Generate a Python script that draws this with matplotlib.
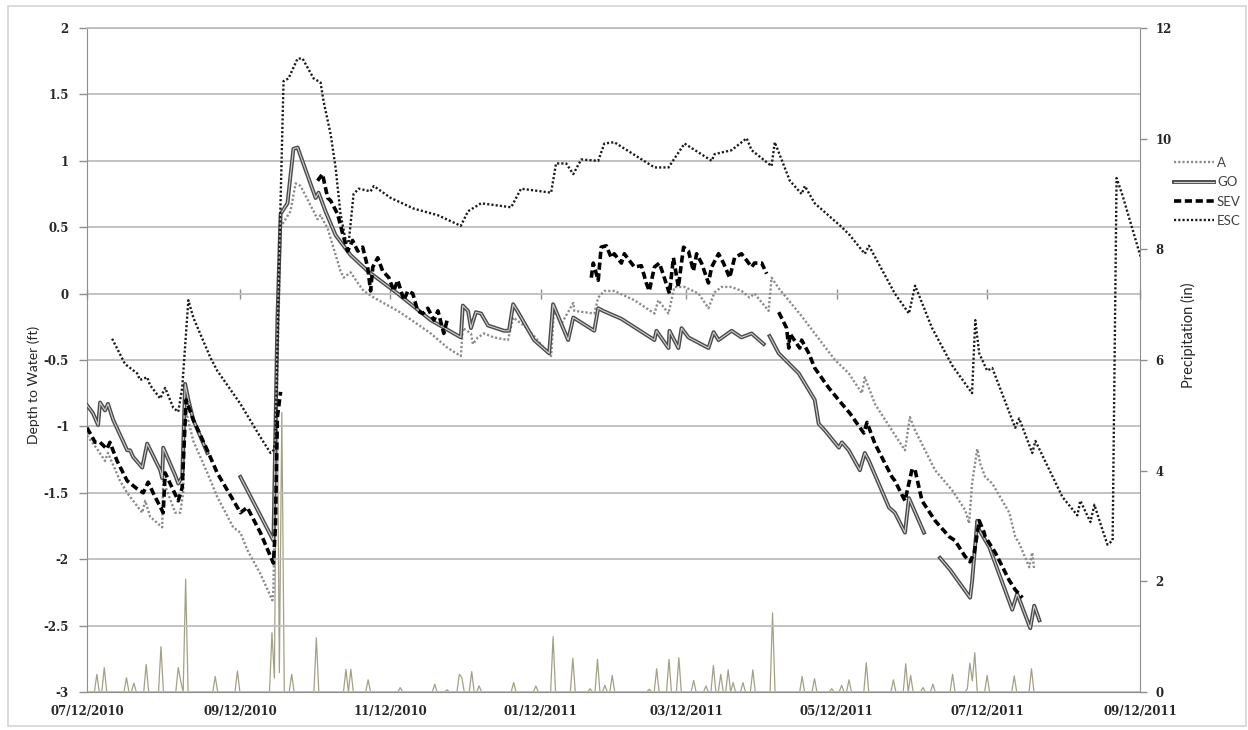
import numpy as np
import matplotlib
matplotlib.use("Agg")
import matplotlib.pyplot as plt
import matplotlib.dates as mdates
import matplotlib.patheffects as pe
from matplotlib.patches import Rectangle
from matplotlib.ticker import FuncFormatter, MultipleLocator

NAN = float("nan")
START = "2010-07-12"
END = "2011-09-12"

# Well records: days since START and depth to water (ft); NaN marks a logger gap
a_day = [0, 4.1, 7.3, 8.5, 13.4, 16.3, 18.7, 22.4, 23.6, 25.6, 30.5, 30.9, 35.8, 37.8, 39.0, 39.8,
         43.1, 48.8, 52.8, 59.3, 62.2, 65.0, 70.3, 75.2, 75.6, 76.8, 78.5, 82.5, 84.6, 86.6, 91.9,
         93.5, 94.7, 97.6, 102.8, 104.1, 106.9, 109.8, 112.2, 116.3, 126.0, 130.1, 139.4, 146.3,
         151.6, 152.4, 155.7, 156.5, 158.5, 161.0, 165.0, 170.7, 172.8, 177.2, 181.3, 186.2, 188.2,
         189.4, 192.3, 197.2, 197.6, 205.7, 207.3, 209.8, 213.8, 222.0, 230.1, 231.7, 235.8, 238.2,
         242.3, 248.0, 252.0, 254.5, 257.3, 261.4, 265.4, 268.7, 270.7, 276.4, 277.6, 280.5, 289.8,
         295.1, 303.3, 308.9, 314.2, 315.4, 319.5, 326.4, 331.7, 333.7, 335.8, 343.9, 350.8, 356.1,
         357.7, 358.9, 361.0, 362.2, 364.2, 367.1, 374.0, 376.4, 378.0, 382.1, 383.3, 384.1]
a_ft = [-1.07, -1.17, -1.26, -1.20, -1.41, -1.50, -1.56, -1.65, -1.56, -1.68, -1.76, -1.41, -1.65,
        -1.65, -1.50, -0.86, -1.11, -1.35, -1.53, -1.76, -1.80, -1.93, -2.11, -2.31, -2.23, -0.95,
        0.50, 0.62, 0.83, 0.81, 0.62, 0.56, 0.59, 0.49, 0.17, 0.12, 0.16, 0.08, 0.02, -0.03, -0.13,
        -0.18, -0.30, -0.41, -0.47, -0.26, -0.30, -0.38, -0.33, -0.30, -0.33, -0.35, -0.18, -0.24,
        -0.32, -0.43, -0.47, -0.11, -0.23, -0.07, -0.13, -0.15, -0.03, 0.02, 0.02, -0.05, -0.15,
        -0.05, -0.15, 0.05, 0.05, 0.00, -0.11, 0.01, 0.05, 0.05, 0.02, -0.03, 0.00, -0.13, 0.12,
        0.04, -0.17, -0.30, -0.50, -0.60, -0.75, -0.63, -0.83, -1.03, -1.18, -0.93, -1.03, -1.33,
        -1.48, -1.63, -1.73, -1.43, -1.17, -1.28, -1.38, -1.43, -1.65, -1.83, -1.88, -2.06, -1.95,
        -2.08]

go_day = [0, 2.4, 4.5, 5.3, 7.3, 8.5, 10.6, 16.3, 17.5, 18.7, 22.4, 24.4, 29.7, 30.5, 30.9, 35.8,
          37.0, 38.6, 39.8, 41.1, 43.1, 48.8, 55, 62.2, 75.6, 76.4, 77.2, 78.5, 81.3, 83.7, 85.4,
          92.7, 93.9, 96.7, 100.8, 106.9, 113.8, 126.0, 139.4, 151.6, 152.4, 154.5, 155.7, 157.7,
          159.8, 162.6, 169.1, 171.1, 172.8, 174.8, 181.3, 187.4, 189.0, 195.1, 197.2, 205.7, 207.3,
          209.3, 216.7, 230.1, 230.9, 235.8, 236.2, 239.8, 241.1, 243.9, 252.0, 254.1, 256.1, 261.4,
          265.4, 269.5, 274.4, 275.6, 276.8, 280.5, 288.6, 295.1, 296.7, 299.2, 304.9, 306.1, 308.9,
          313.4, 315.4, 317.1, 325.2, 327.6, 331.7, 333.3, 339.4, 342.5, 345.9, 350.0, 358.1, 358.9,
          361.0, 361.8, 365.9, 375.2, 377.2, 382.5, 384.1, 386.2]
go_ft = [-0.84, -0.90, -0.99, -0.82, -0.88, -0.83, -0.95, -1.18, -1.18, -1.23, -1.31, -1.13, -1.33,
         -1.39, -1.16, -1.37, -1.43, -1.38, -0.68, -0.80, -0.95, -1.20, NAN, -1.38, -1.86, -1.03,
         -0.20, 0.60, 0.68, 1.09, 1.10, 0.72, 0.76, 0.62, 0.44, 0.29, 0.17, 0.00, -0.20, -0.33,
         -0.09, -0.13, -0.26, -0.14, -0.15, -0.24, -0.28, -0.28, -0.08, -0.14, -0.35, -0.45, -0.08,
         -0.35, -0.18, -0.28, -0.11, -0.13, -0.19, -0.35, -0.28, -0.41, -0.28, -0.41, -0.26, -0.33,
         -0.41, -0.29, -0.35, -0.28, -0.33, -0.30, -0.38, NAN, -0.32, -0.45, -0.60, -0.80, -0.98,
         -1.03, -1.16, -1.12, -1.18, -1.33, -1.20, -1.26, -1.61, -1.65, -1.80, -1.54, -1.80, NAN,
         -1.99, -2.08, -2.29, -2.17, -1.71, -1.78, -1.91, -2.38, -2.26, -2.52, -2.35, -2.46]

sev_day = [0, 3.3, 5.3, 8.1, 9.3, 12.2, 16.3, 20.3, 22.8, 24.8, 26.8, 30.9, 31.7, 35.0, 37.0, 38.6,
           40.2, 43.1, 48.8, 52.8, 61.0, 62.2, 65.0, 70.3, 75.6, 76.4, 77.2, 78.5, 86, 93.5, 95.5,
           97.6, 98.8, 101.6, 103.7, 105.7, 107.7, 109.8, 111.8, 113.8, 115.0, 115.9, 117.9, 119.9,
           122.4, 124.4, 126.0, 128.5, 130.1, 132.1, 134.1, 136.2, 138.2, 140.7, 142.3, 144.7, 146.3,
           175, 204.5, 205.3, 207.3, 208.5, 210.6, 212.6, 213.8, 216.7, 217.9, 219.9, 222.0, 224.8,
           226.8, 228.0, 230.1, 232.1, 234.1, 236.2, 237.8, 239.8, 241.9, 243.9, 245.9, 247.2, 249.2,
           252.0, 253.3, 256.1, 258.1, 260.6, 262.6, 265.4, 267.5, 269.5, 270.7, 273.6, 275.6, 278,
           280.5, 283.7, 284.6, 285.0, 289.0, 289.8, 292.7, 295.1, 300.8, 306.1, 309.3, 315.0, 316.3,
           319.5, 326.4, 327.6, 331.7, 334.6, 335.8, 338.6, 343.9, 349.6, 352.0, 356.1, 358.1, 359.8,
           361.8, 363.8, 364.2, 368.3, 374.0, 376.4, 379.3]
sev_ft = [-1.01, -1.12, -1.12, -1.17, -1.12, -1.26, -1.41, -1.47, -1.50, -1.42, -1.50, -1.65, -1.35,
          -1.48, -1.56, -1.46, -0.80, -0.95, -1.18, -1.35, -1.61, -1.65, -1.61, -1.80, -2.03, -1.76,
          -0.93, -0.74, NAN, 0.85, 0.90, 0.72, 0.70, 0.60, 0.45, 0.32, 0.40, 0.32, 0.35, 0.20, 0.02,
          0.20, 0.27, 0.17, 0.12, 0.02, 0.10, -0.05, 0.02, 0.00, -0.13, -0.15, -0.11, -0.20, -0.13,
          -0.30, -0.18, NAN, 0.12, 0.23, 0.10, 0.35, 0.36, 0.27, 0.30, 0.23, 0.30, 0.25, 0.20, 0.21,
          0.08, 0.02, 0.20, 0.23, 0.12, 0.00, 0.27, 0.05, 0.35, 0.32, 0.17, 0.30, 0.23, 0.08, 0.20,
          0.30, 0.23, 0.12, 0.27, 0.30, 0.25, 0.20, 0.23, 0.23, 0.15, NAN, -0.14, -0.26, -0.41,
          -0.30, -0.41, -0.35, -0.45, -0.56, -0.71, -0.83, -0.90, -1.05, -0.97, -1.13, -1.38, -1.41,
          -1.56, -1.32, -1.33, -1.56, -1.71, -1.83, -1.86, -1.98, -2.02, -1.95, -1.71, -1.80, -1.83,
          -1.95, -2.16, -2.23, -2.29]

esc_day = [10.2, 15.4, 20.3, 21.5, 24.4, 25.6, 29.7, 31.7, 35.0, 37.0, 38.6, 41.1, 43.1, 50.0, 52.8,
           62.2, 70.3, 74.4, 75.6, 76.4, 78.0, 79.7, 81.7, 85.4, 87.4, 91.9, 94.7, 95.9, 98.8, 100.8,
           102.8, 104.9, 106.1, 108.1, 110.2, 115.0, 116.3, 123.2, 132.5, 142.3, 151.6, 154.5, 159.8,
           172.0, 176.0, 188.2, 190.2, 194.3, 197.2, 200.4, 207.3, 209.8, 213.8, 230.1, 235.8, 242.3,
           253.3, 254.5, 261.4, 267.5, 269.5, 277.6, 278.9, 285.0, 289.8, 291.1, 295.1, 306.1, 309.3,
           315.4, 317.1, 327.6, 333.3, 335.8, 342.7, 350.8, 358.9, 360.2, 361.8, 365.0, 367.1, 376.4,
           378.0, 383.3, 384.6, 395.5, 401.6, 402.8, 406.9, 408.5, 411.8, 413.8, 415.9, 417.5, 419.9,
           428.0]
esc_ft = [-0.34, -0.53, -0.60, -0.65, -0.63, -0.69, -0.79, -0.71, -0.86, -0.89, -0.71, -0.05, -0.18,
          -0.48, -0.58, -0.83, -1.08, -1.20, -1.18, -1.11, 0.32, 1.60, 1.62, 1.77, 1.77, 1.62, 1.59,
          1.45, 1.20, 0.95, 0.60, 0.40, 0.38, 0.75, 0.79, 0.77, 0.81, 0.72, 0.64, 0.59, 0.51, 0.62,
          0.68, 0.65, 0.79, 0.76, 0.98, 0.98, 0.90, 1.01, 1.00, 1.13, 1.14, 0.95, 0.95, 1.13, 1.00,
          1.05, 1.08, 1.17, 1.08, 0.96, 1.14, 0.85, 0.75, 0.81, 0.68, 0.50, 0.44, 0.30, 0.36, 0.00,
          -0.15, 0.06, -0.26, -0.54, -0.75, -0.20, -0.45, -0.58, -0.56, -1.01, -0.94, -1.20, -1.11,
          -1.53, -1.67, -1.56, -1.72, -1.59, -1.78, -1.89, -1.86, 0.87, 0.74, 0.23]

# Daily precipitation (in): days since START with rain; all other days are dry
precip_day = [4, 7, 16, 19, 24, 30, 37, 38, 40, 52, 61, 75, 76, 77, 78, 79, 83, 93, 105, 107, 114,
              127, 141, 146, 151, 152, 156, 159, 173, 182, 189, 197, 204, 207, 210, 213, 228, 231,
              236, 240, 246, 251, 254, 257, 260, 262, 266, 270, 278, 290, 295, 302, 306, 309, 316,
              327, 332, 334, 339, 343, 351, 357, 358, 359, 360, 365, 376, 383]
precip_in = [0.32, 0.44, 0.26, 0.16, 0.50, 0.82, 0.44, 0.20, 2.04, 0.28, 0.38, 1.07, 0.25, 6.30,
             0.35, 5.05, 0.32, 0.98, 0.41, 0.41, 0.22, 0.08, 0.14, 0.04, 0.32, 0.26, 0.37, 0.11,
             0.17, 0.11, 1.00, 0.61, 0.06, 0.59, 0.12, 0.30, 0.05, 0.42, 0.59, 0.62, 0.21, 0.11,
             0.48, 0.32, 0.40, 0.17, 0.17, 0.40, 1.43, 0.28, 0.24, 0.06, 0.12, 0.22, 0.53, 0.22,
             0.51, 0.30, 0.08, 0.14, 0.32, 0.06, 0.52, 0.20, 0.71, 0.30, 0.29, 0.42]
PRECIP_LAST_DAY = 386

series_names = ["A", "GO", "SEV", "ESC"]


def to_dates(days):
    secs = np.round(np.asarray(days, dtype=float) * 86400).astype("int64")
    return np.datetime64(START) + secs.astype("timedelta64[s]")


W, H, DPI = 1248, 730, 100
fig = plt.figure(figsize=(W / DPI, H / DPI), dpi=DPI)
fig.patch.set_facecolor("white")

# plot area
L, R, B, T = 87, 1140, 692, 28
ax = fig.add_axes([L / W, 1 - B / H, (R - L) / W, (B - T) / H])
ax2 = ax.twinx()
ax.set_zorder(ax2.get_zorder() + 1)
ax.patch.set_visible(False)

# precipitation on the secondary axis, drawn behind the wells
rain_days = np.arange(0, PRECIP_LAST_DAY + 1)
rain = np.zeros(rain_days.size)
rain[np.asarray(precip_day)] = precip_in
ax2.plot(to_dates(rain_days), rain, color="#a3a185", lw=0.9, zorder=2)

grey_text = "#262626"
axis_grey = "#8e8e8e"

# wells
ln_a, = ax.plot(to_dates(a_day), a_ft, color="#8a8a8a", lw=1.7, ls=(0, (0.9, 0.9)),
                label="A", zorder=3)
ln_go, = ax.plot(to_dates(go_day), go_ft, color="#d0d0d0", lw=0.8, label="GO", zorder=4,
                 path_effects=[pe.Stroke(linewidth=2.8, foreground="#4a4a4a"), pe.Normal()])
ln_sev, = ax.plot(to_dates(sev_day), sev_ft, color="black", lw=2.6, ls=(0, (2.0, 1.0)),
                  label="SEV", zorder=5)
ln_esc, = ax.plot(to_dates(esc_day), esc_ft, color="#1a1a1a", lw=1.7, ls=(0, (0.9, 0.9)),
                  label="ESC", zorder=6)

# axes ranges
ax.set_xlim(np.datetime64(START), np.datetime64(END))
ax.set_ylim(-3, 2)
ax2.set_ylim(0, 12)

ax.yaxis.set_major_locator(MultipleLocator(0.5))
ax.yaxis.set_major_formatter(FuncFormatter(lambda v, p: f"{v:g}"))
ax2.yaxis.set_major_locator(MultipleLocator(2))
ax2.yaxis.set_major_formatter(FuncFormatter(lambda v, p: f"{v:g}"))

months = mdates.MonthLocator(bymonth=[1, 3, 5, 7, 9, 11], bymonthday=12)
ax.xaxis.set_major_locator(months)
ax.xaxis.set_major_formatter(mdates.DateFormatter("%m/%d/%Y"))

ax.yaxis.grid(True, color="#bdbdbd", lw=1.3)
ax.xaxis.grid(False)
ax.set_axisbelow(True)

tick_font = dict(family="DejaVu Serif", weight="bold", size=8.5)
for lab in ax.get_xticklabels() + ax.get_yticklabels() + ax2.get_yticklabels():
    lab.set_fontfamily(tick_font["family"])
    lab.set_fontweight(tick_font["weight"])
    lab.set_fontsize(tick_font["size"])
    lab.set_color(grey_text)

ax.tick_params(axis="x", length=0, pad=9)
ax.tick_params(axis="y", direction="out", length=6, width=1, color=axis_grey, pad=7)
ax2.tick_params(axis="y", direction="out", length=5, width=1, color=axis_grey, pad=6)

for sp in ("left", "bottom"):
    ax.spines[sp].set_color(axis_grey)
ax.spines["right"].set_visible(False)
ax.spines["top"].set_color("#bdbdbd")
ax.spines["top"].set_linewidth(1.3)
ax2.spines["right"].set_color(axis_grey)
for sp in ("left", "bottom", "top"):
    ax2.spines[sp].set_visible(False)

# date ticks across the zero line
zero_frac = (0 - (-3)) / (2 - (-3))
sec = ax.secondary_xaxis(zero_frac)
sec.xaxis.set_major_locator(mdates.MonthLocator(bymonth=[1, 3, 5, 7, 9, 11], bymonthday=12))
for sp in sec.spines.values():
    sp.set_visible(False)
sec.tick_params(axis="x", direction="inout", length=7, width=1, color=axis_grey,
                labelbottom=False, labeltop=False)

# axis titles
title_font = ["Liberation Sans Narrow", "Lato", "DejaVu Sans"]
fig.text(34 / W, 1 - 385 / H, "Depth to Water (ft)", rotation=90, ha="center", va="center",
         fontsize=10, family=title_font, color=grey_text)
fig.text(1188 / W, 1 - 335 / H, "Precipitation (in)", rotation=90, ha="center", va="center",
         fontsize=10.5, family=title_font, color=grey_text)

# legend
leg = fig.legend(handles=[ln_a, ln_go, ln_sev, ln_esc], labels=series_names,
                 loc="upper left", bbox_to_anchor=(1174 / W, 1 - 157 / H),
                 frameon=False, handlelength=3.0, handletextpad=0.25,
                 labelspacing=0.55, borderpad=0, borderaxespad=0,
                 prop={"family": title_font, "size": 9.5})
for t in leg.get_texts():
    t.set_color("#404040")

# chart border
fig.patches.append(Rectangle((8 / W, 4 / H), (1246 - 8) / W, (724 - 4) / H,
                             transform=fig.transFigure, fill=False, ec="#d4d4d4", lw=1.2))

fig.savefig("out.png", dpi=DPI, facecolor="white")
